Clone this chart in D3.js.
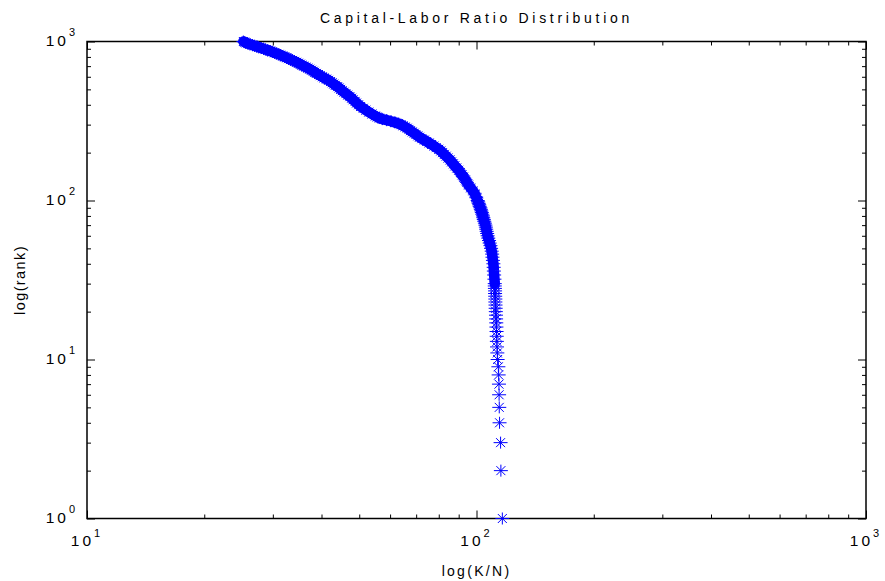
<!DOCTYPE html>
<html>
<head>
<meta charset="utf-8">
<script src="https://cdn.jsdelivr.net/npm/d3@7"></script>
<style>
body { margin: 0; background: #fff; }
text { font-family: "Liberation Sans", Arial, sans-serif; fill: #000; }
</style>
</head>
<body>
<div id="chart"></div>
<script>
// rank of each firm (y) and its capital-labor ratio K/N (x)
var ranks = [
    1, 2, 3, 4, 5, 6, 7, 8, 9, 10,
    11, 12, 13, 14, 15, 16, 17, 18, 19, 20,
    21, 22, 23, 24, 25, 26, 27, 28, 29, 30,
    32, 34, 36, 38, 40, 42, 44, 46, 48, 50,
    52, 54, 56, 58, 60, 62, 64, 66, 68, 70,
    72, 74, 76, 78, 80, 82, 84, 86, 88, 90,
    92, 94, 96, 98, 100,
    105, 110, 115, 120, 125, 130, 135, 140, 145, 150,
    155, 160, 165, 170, 175, 180, 185, 190, 195, 200,
    205, 210, 215, 220, 225, 230, 235, 240, 245, 250,
    255, 260, 265, 270, 275, 280, 285, 290, 295, 300,
    305, 310, 315, 320, 325, 330, 335, 340,
    350, 360, 370, 380, 390, 400, 410, 420, 430, 440,
    450, 460, 470, 480, 490, 500, 510, 520, 530, 540,
    550, 560, 570, 580, 590, 600, 610, 620, 630, 640,
    650, 660, 670, 680, 690, 700, 710, 720, 730, 740,
    750, 760, 770, 780, 790, 800, 810, 820, 830, 840,
    850, 860, 870, 880, 890, 900, 910, 920, 930, 940,
    950, 960, 970, 980, 990, 1000
];
var capLabor = [
    116.5, 115.5, 115.3, 114.6, 114.4, 114.3, 114.2, 114.0, 113.8, 113.3,
    113.1, 112.9, 112.8, 112.7, 112.6, 112.5, 112.4, 112.3, 112.2, 112.1,
    112.0, 111.9, 111.8, 111.8, 111.7, 111.6, 111.6, 111.5, 111.4, 111.4,
    111.2, 111.0, 110.8, 110.7, 110.5, 110.2, 109.9, 109.7, 109.4, 109.0,
    108.6, 108.1, 107.7, 107.2, 106.8, 106.5, 106.2, 105.9, 105.7, 105.4,
    105.1, 104.7, 104.4, 104.1, 103.9, 103.5, 103.2, 102.9, 102.6, 102.3,
    101.9, 101.6, 101.3, 101.0, 100.7,
    99.8, 99.0, 97.9, 96.6, 95.4, 94.5, 93.7, 92.7, 91.8, 90.9,
    90.0, 89.0, 88.0, 87.2, 86.3, 85.5, 84.5, 83.6, 82.7, 81.8,
    81.0, 80.0, 78.8, 77.8, 76.7, 75.6, 74.5, 73.5, 72.4, 71.4,
    70.7, 69.9, 69.2, 68.4, 67.7, 67.1, 66.4, 65.6, 64.8, 64.0,
    63.0, 61.7, 60.3, 58.8, 57.3, 56.3, 55.6, 55.0,
    53.9, 52.9, 52.0, 51.2, 50.4, 49.8, 49.2, 48.8, 48.2, 47.8,
    47.3, 46.7, 46.2, 45.7, 45.2, 44.8, 44.4, 44.0, 43.4, 43.0,
    42.6, 42.2, 41.7, 41.2, 40.6, 40.2, 39.7, 39.3, 38.8, 38.4,
    38.1, 37.7, 37.3, 36.9, 36.5, 36.0, 35.6, 35.3, 34.9, 34.5,
    34.1, 33.7, 33.3, 32.9, 32.6, 32.2, 31.8, 31.4, 31.1, 30.7,
    30.3, 29.9, 29.6, 29.1, 28.7, 28.4, 28.0, 27.6, 27.3, 26.9,
    26.6, 26.2, 25.9, 25.6, 25.4, 25.2
];
var xDomain = [10, 1000];
var yDomain = [1, 1000];
var xMajor = [10, 100, 1000];
var yMajor = [1, 10, 100, 1000];

var svg = d3.select('#chart').append('svg').attr('width', 885).attr('height', 581);

var margin = { left: 87, top: 41.5 };
var width = 779;
var height = 477;

var chart = svg.append('g')
    .attr('transform', `translate(${margin.left}, ${margin.top})`);

var xScale = d3.scaleLog().domain(xDomain).range([0, width]);
var yScale = d3.scaleLog().domain(yDomain).range([height, 0]);

var xMinor = xScale.ticks().filter(v => xMajor.indexOf(v) < 0);
var yMinor = yScale.ticks().filter(v => yMajor.indexOf(v) < 0);

function addTicks(axisFn, scale, values, size, transform) {
    chart.append('g')
        .attr('transform', transform)
        .call(axisFn(scale)
            .tickValues(values)
            .tickSizeInner(-size)
            .tickSizeOuter(0)
            .tickFormat(''))
        .call(g => g.select('.domain').remove());
}

addTicks(d3.axisBottom, xScale, xMajor, 8, `translate(0, ${height})`);
addTicks(d3.axisBottom, xScale, xMinor, 4, `translate(0, ${height})`);
addTicks(d3.axisTop, xScale, xMajor, 8, 'translate(0, 0)');
addTicks(d3.axisTop, xScale, xMinor, 4, 'translate(0, 0)');
addTicks(d3.axisLeft, yScale, yMajor, 8, 'translate(0, 0)');
addTicks(d3.axisLeft, yScale, yMinor, 4, 'translate(0, 0)');
addTicks(d3.axisRight, yScale, yMajor, 8, `translate(${width}, 0)`);
addTicks(d3.axisRight, yScale, yMinor, 4, `translate(${width}, 0)`);

chart.append('rect')
    .attr('width', width)
    .attr('height', height)
    .attr('fill', 'none')
    .attr('stroke', '#000')
    .attr('stroke-width', 1.5);

// tick labels as 10 with a raised exponent
xMajor.forEach(function (v) {
    var t = chart.append('text')
        .attr('x', xScale(v))
        .attr('y', height + 27.5)
        .attr('text-anchor', 'middle')
        .attr('font-size', 15.5)
        .attr('letter-spacing', 3);
    t.append('tspan').text('10');
    t.append('tspan').attr('dy', -9).attr('font-size', 11).text(Math.round(Math.log10(v)));
});

yMajor.forEach(function (v) {
    var t = chart.append('text')
        .attr('x', -9)
        .attr('y', yScale(v) + 4.5)
        .attr('text-anchor', 'end')
        .attr('font-size', 15.5)
        .attr('letter-spacing', 3);
    t.append('tspan').text('10');
    t.append('tspan').attr('dy', -10).attr('font-size', 11).text(Math.round(Math.log10(v)));
});

// where the stars pile up they merge into one solid band
var dense = ranks.map((r, i) => [capLabor[i], r]).filter(d => d[1] >= 30);

chart.append('path')
    .datum(dense)
    .attr('d', d3.line().x(d => xScale(d[0])).y(d => yScale(d[1])))
    .attr('fill', 'none')
    .attr('stroke', '#0000ff')
    .attr('stroke-width', 10.5)
    .attr('stroke-linejoin', 'round')
    .attr('stroke-linecap', 'round');

var star = 'M-7,0H7M0,-6V6M-4.5,-4.5L4.5,4.5M-4.5,4.5L4.5,-4.5';

chart.selectAll('.pt')
    .data(ranks)
    .enter()
    .append('path')
    .attr('class', 'pt')
    .attr('d', star)
    .attr('transform', (r, i) => `translate(${xScale(capLabor[i])}, ${yScale(r)})`)
    .attr('fill', 'none')
    .attr('stroke', '#0000ff')
    .attr('stroke-width', 1);

svg.append('text')
    .attr('x', margin.left + width / 2)
    .attr('y', 23)
    .attr('text-anchor', 'middle')
    .attr('font-size', 14)
    .attr('letter-spacing', 3.7)
    .text('Capital-Labor Ratio Distribution');

svg.append('text')
    .attr('x', margin.left + width / 2)
    .attr('y', 576)
    .attr('text-anchor', 'middle')
    .attr('font-size', 14)
    .attr('letter-spacing', 2.3)
    .text('log(K/N)');

svg.append('text')
    .attr('transform', `translate(25, ${margin.top + height / 2}) rotate(-90)`)
    .attr('text-anchor', 'middle')
    .attr('font-size', 14.5)
    .attr('letter-spacing', 1.4)
    .text('log(rank)');
</script>
</body>
</html>
